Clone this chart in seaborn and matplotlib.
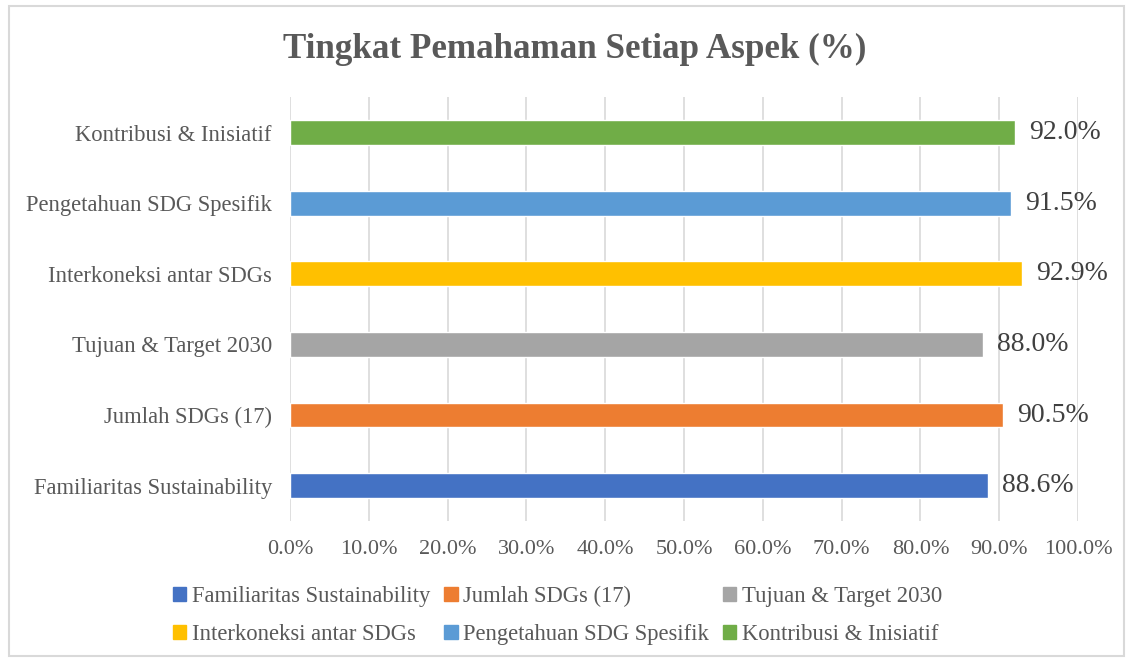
import matplotlib
matplotlib.use("Agg")
import matplotlib.pyplot as plt
import matplotlib.patches as mpatches
import seaborn as sns
import pandas as pd

# Data
aspects = ["Familiaritas Sustainability", "Jumlah SDGs (17)", "Tujuan & Target 2030",
           "Interkoneksi antar SDGs", "Pengetahuan SDG Spesifik", "Kontribusi & Inisiatif"]
scores = [88.6, 90.5, 88.0, 92.9, 91.5, 92.0]
colors = ["#4472C4", "#ED7D31", "#A5A5A5", "#FFC000", "#5B9BD5", "#70AD47"]
x_ticks = [0, 10, 20, 30, 40, 50, 60, 70, 80, 90, 100]

df = pd.DataFrame({"Aspek": aspects, "Persen": scores})
palette = dict(zip(aspects, colors))

sns.set_style("white")
plt.rcParams["font.family"] = ["Liberation Serif", "DejaVu Serif"]
text_gray = "#595959"

fig = plt.figure(figsize=(11.33, 6.62), dpi=100)
ax = fig.add_axes([0.256, 0.213, 0.6955, 0.64])

# top to bottom: last aspect first
order = aspects[::-1]
sns.barplot(data=df, x="Persen", y="Aspek", hue="Aspek", order=order, hue_order=aspects,
            palette=palette, saturation=1, width=0.35, dodge=False, legend=False, ax=ax)

for cont in ax.containers:
    ax.bar_label(cont, fmt="%.1f%%", padding=10, fontsize=20, color="#404040")

ax.set_xlim(0, 100)
ax.set_xticks(x_ticks)
ax.set_xticklabels([f"{t:.1f}%" for t in x_ticks])
ax.set_xlabel("")
ax.set_ylabel("")
ax.tick_params(axis="x", length=0, pad=14, labelsize=16, labelcolor=text_gray)
ax.tick_params(axis="y", length=0, pad=13, labelsize=16.3, labelcolor=text_gray)
ax.grid(axis="x", color="#d9d9d9", linewidth=1.2)
ax.set_axisbelow(True)
sns.despine(ax=ax, left=True, bottom=True)

fig.text(0.507, 1 - 49 / 662, "Tingkat Pemahaman Setiap Aspek (%)", ha="center", va="center",
         fontsize=25.2, fontweight="bold", color=text_gray)

# legend, row-major like the original (3 columns)
handles = [mpatches.Patch(color=c, label=a) for a, c in zip(aspects, colors)]
ncol = 3
col_major = [handles[r * ncol + c] for c in range(ncol) for r in range(2)]
fig.legend(handles=col_major, loc="center", bbox_to_anchor=(0.492, 0.07), ncol=ncol,
           frameon=False, fontsize=16.3, labelcolor=text_gray, handlelength=0.6,
           handleheight=0.6, handletextpad=0.25, columnspacing=0.6, labelspacing=0.75)

# light border around the chart
fig.patches.append(mpatches.Rectangle((9 / 1133, 6 / 662), 1 - 18 / 1133, 1 - 12 / 662,
                                      transform=fig.transFigure, fill=False,
                                      edgecolor="#d9d9d9", linewidth=1.5))

fig.savefig("out.png", dpi=100)
